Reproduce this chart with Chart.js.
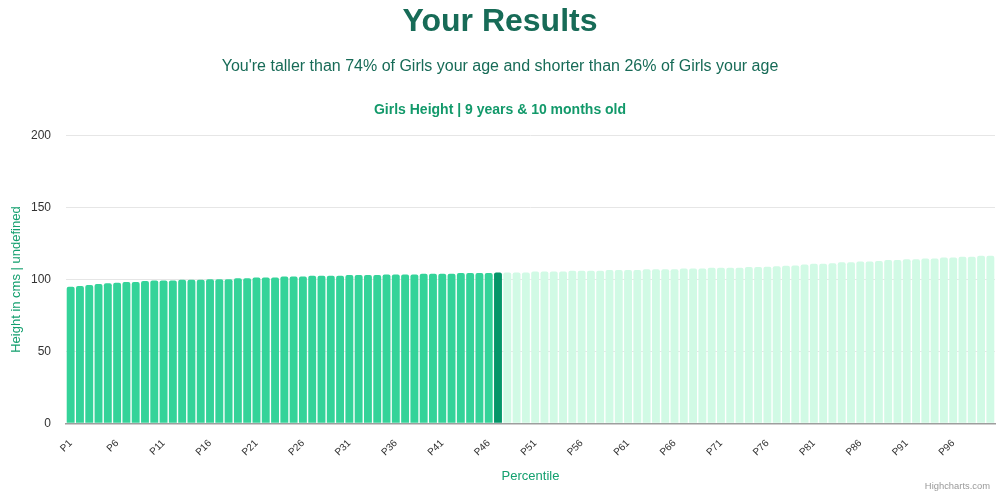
<!DOCTYPE html>
<html>
<head>
<meta charset="utf-8">
<script src="https://cdn.jsdelivr.net/npm/chart.js@4"></script>
<style>
  html, body { margin: 0; padding: 0; background: #fff; }
  body { width: 1000px; height: 495px; position: relative; overflow: hidden; font-family: "Liberation Sans", Arial, Helvetica, sans-serif; }
  #h1 { position: absolute; left: 0; width: 1000px; top: 1px; text-align: center; font-size: 32px; font-weight: bold; color: #176b57; line-height: 38px; }
  #sub { position: absolute; left: 0; width: 1000px; top: 55px; text-align: center; font-size: 16px; color: #176b57; line-height: 22px; }
  #credits { position: absolute; right: 10px; top: 480px; font-size: 9.4px; color: #999; }
  #wrap { position: absolute; left: 0; top: 0; width: 1000px; height: 495px; }
</style>
</head>
<body>
<div id="wrap"><canvas id="c"></canvas></div>
<div id="h1">Your Results</div>
<div id="sub">You're taller than 74% of Girls your age and shorter than 26% of Girls your age</div>
<div id="credits">Highcharts.com</div>
<script>
const categories = [];
for (let i = 1; i <= 100; i++) categories.push('P' + i);

const heights = [
  95.0, 95.5, 96.2, 96.9, 97.4, 97.8, 98.3, 98.3, 99.0, 99.4,
  99.4, 99.4, 99.9, 99.9, 99.9, 100.3, 100.3, 100.3, 101.0, 101.0,
  101.5, 101.5, 101.5, 102.2, 102.2, 102.2, 102.6, 102.6, 102.6, 102.6,
  103.1, 103.1, 103.1, 103.1, 103.6, 103.6, 103.6, 103.6, 104.0, 104.0,
  104.0, 104.0, 104.5, 104.5, 104.5, 104.5, 105.0, 105.0, 105.0, 105.0,
  105.6, 105.6, 105.6, 105.6, 106.1, 106.1, 106.1, 106.1, 106.6, 106.6,
  106.6, 106.6, 107.2, 107.2, 107.2, 107.2, 107.7, 107.7, 107.7, 108.3,
  108.3, 108.3, 108.3, 108.8, 108.8, 108.9, 109.3, 109.6, 109.8, 110.5,
  111.0, 111.0, 111.4, 112.1, 112.1, 112.6, 112.6, 113.0, 113.6, 113.6,
  114.2, 114.2, 114.6, 114.6, 115.3, 115.3, 115.8, 115.8, 116.5, 116.5
];

const userPercentile = 47;
const yTicks = [0, 50, 100, 150, 200];

const colorBelow = '#34d399';
const colorUser = '#059669';
const colorAbove = '#d1fae5';
const barColors = heights.map((v, i) => (i + 1 < userPercentile ? colorBelow : (i + 1 === userPercentile ? colorUser : colorAbove)));

const FONT = '"Liberation Sans", Arial, Helvetica, sans-serif';

new Chart(document.getElementById('c'), {
  type: 'bar',
  data: {
    labels: categories,
    datasets: [{
      data: heights,
      backgroundColor: barColors,
      borderWidth: 0,
      borderRadius: { topLeft: 2, topRight: 2, bottomLeft: 0, bottomRight: 0 },
      borderSkipped: false,
      barPercentage: 0.85,
      categoryPercentage: 1.0
    }]
  },
  options: {
    responsive: true,
    maintainAspectRatio: false,
    animation: false,
    layout: { padding: { top: 102, right: 5, bottom: 11, left: 5 } },
    plugins: {
      legend: { display: false },
      tooltip: { enabled: false },
      title: {
        display: true,
        text: 'Girls Height | 9 years & 10 months old',
        color: '#12996a',
        font: { family: FONT, size: 14, weight: 'bold' },
        padding: { top: 0, bottom: 17 }
      }
    },
    scales: {
      x: {
        grid: { display: true, drawOnChartArea: false, drawTicks: true, tickLength: 10, tickColor: 'rgba(0,0,0,0)' },
        border: { display: true, color: '#9e9e9e', width: 1.5 },
        ticks: {
          autoSkip: false,
          maxRotation: 45,
          minRotation: 45,
          padding: 4,
          color: '#333333',
          font: { family: FONT, size: 10 },
          callback: function (val, idx) { return idx % 5 === 0 ? categories[idx] : null; }
        },
        title: {
          display: true,
          text: 'Percentile',
          color: '#14a06f',
          font: { family: FONT, size: 13 },
          padding: { top: 6, bottom: 0 }
        }
      },
      y: {
        min: 0,
        max: 200,
        afterBuildTicks: function (axis) { axis.ticks = yTicks.map(v => ({ value: v })); },
        grid: { color: '#e6e6e6', drawTicks: false },
        border: { display: false },
        ticks: {
          padding: 15,
          color: '#333333',
          font: { family: FONT, size: 12 }
        },
        title: {
          display: true,
          text: 'Height in cms | undefined',
          color: '#14a06f',
          font: { family: FONT, size: 13 },
          padding: { top: 3.2, bottom: -7.8 }
        }
      }
    }
  }
});
</script>
</body>
</html>
